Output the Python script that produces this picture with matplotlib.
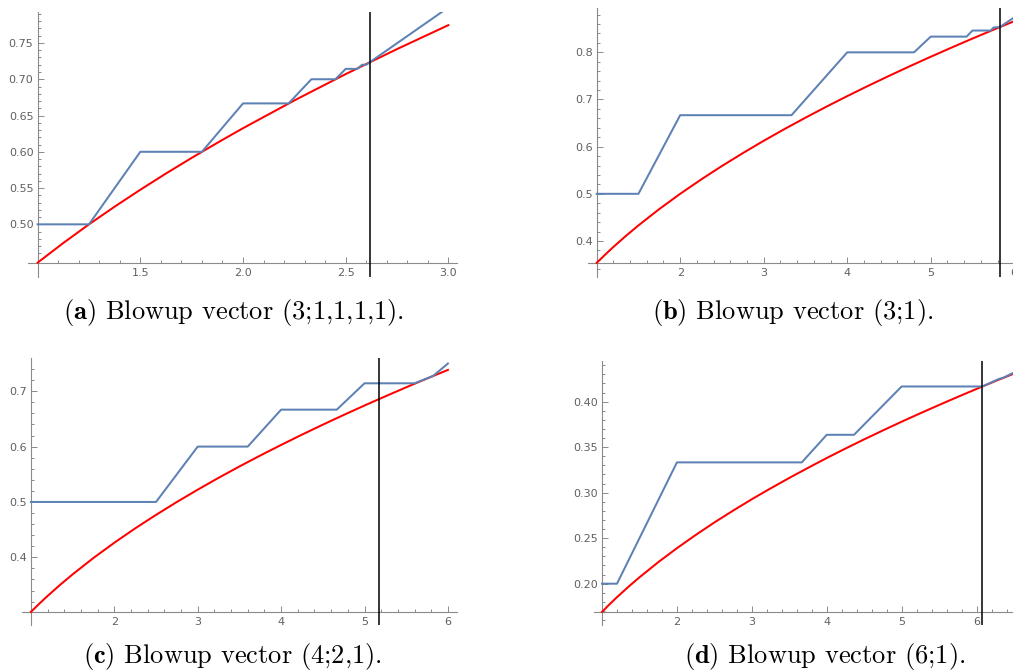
import numpy as np
import matplotlib
matplotlib.use("Agg")
import matplotlib.pyplot as plt
from matplotlib.ticker import FixedLocator

plt.rcParams["mathtext.fontset"] = "cm"

# values
a_blue_x = [1.0, 1.25, 1.5, 1.8, 2.0, 2.222, 2.333, 2.45, 2.5, 2.556, 2.58, 2.6, 2.618, 3.0]
a_blue_y = [0.5, 0.5, 0.6, 0.6, 0.6667, 0.6667, 0.70, 0.70, 0.7143, 0.7143, 0.72, 0.72, 0.7236, 0.799]
a_red_x = [1.0, 1.125, 1.25, 1.375, 1.5, 1.625, 1.75, 1.875, 2.0, 2.25, 2.5, 2.75, 3.0]
a_red_y = [0.4472, 0.4743, 0.5, 0.5244, 0.5477, 0.5701, 0.5916, 0.6124, 0.6325, 0.6708,
           0.7071, 0.7416, 0.7746]

b_blue_x = [1.0, 1.5, 2.0, 3.333, 4.0, 4.8, 5.0, 5.43, 5.5, 5.72, 5.75, 5.828, 6.1]
b_blue_y = [0.5, 0.5, 0.6667, 0.6667, 0.8, 0.8, 0.8333, 0.8333, 0.8462, 0.8462, 0.8525, 0.8536, 0.886]
b_red_x = [1.0, 1.1, 1.2, 1.35, 1.5, 1.75, 2.0, 2.25, 2.5, 2.75, 3.0, 3.25, 3.5, 3.75,
           4.0, 4.25, 4.5, 4.75, 5.0, 5.25, 5.5, 5.75, 6.0, 6.1]
b_red_y = [0.3536, 0.3708, 0.3873, 0.4108, 0.4330, 0.4677, 0.5, 0.5303, 0.5590, 0.5863, 0.6124,
           0.6374, 0.6614, 0.6847, 0.7071, 0.7289, 0.75, 0.7706, 0.7906, 0.8101, 0.8292,
           0.8478, 0.8660, 0.8732]

c_blue_x = [1.0, 2.5, 3.0, 3.6, 4.0, 4.667, 5.0, 5.6, 5.82, 6.0]
c_blue_y = [0.5, 0.5, 0.6, 0.6, 0.6667, 0.6667, 0.7143, 0.7143, 0.7273, 0.75]
c_red_x = [1.0, 1.1, 1.2, 1.35, 1.5, 1.75, 2.0, 2.25, 2.5, 2.75, 3.0, 3.25, 3.5, 3.75,
           4.0, 4.25, 4.5, 4.75, 5.0, 5.25, 5.5, 5.75, 6.0]
c_red_y = [0.3015, 0.3162, 0.3303, 0.3503, 0.3693, 0.3989, 0.4264, 0.4523, 0.4767, 0.5,
           0.5222, 0.5436, 0.5641, 0.5839, 0.6030, 0.6216, 0.6396, 0.6571, 0.6742, 0.6908,
           0.7071, 0.7230, 0.7385]

d_blue_x = [1.0, 1.2, 2.0, 3.667, 4.0, 4.364, 5.0, 6.076, 6.3, 6.35, 6.62]
d_blue_y = [0.2, 0.2, 0.3333, 0.3333, 0.3636, 0.3636, 0.4167, 0.4167, 0.425, 0.426, 0.437]
d_red_x = [1.0, 1.1, 1.2, 1.35, 1.5, 1.75, 2.0, 2.25, 2.5, 2.75, 3.0, 3.25, 3.5, 3.75,
           4.0, 4.25, 4.5, 4.75, 5.0, 5.25, 5.5, 5.75, 6.0, 6.25, 6.5, 6.62]
d_red_y = [0.1690, 0.1773, 0.1852, 0.1964, 0.2070, 0.2236, 0.2390, 0.2535, 0.2673, 0.2803,
           0.2928, 0.3047, 0.3162, 0.3273, 0.3381, 0.3485, 0.3586, 0.3684, 0.3780, 0.3873,
           0.3964, 0.4053, 0.4140, 0.4226, 0.4309, 0.4349]

vlines = [2.618, 5.828, 5.177, 6.076]
captions = ["(a)", "(b)", "(c)", "(d)"]
vectors = ["(3;1,1,1,1).", "(3;1).", "(4;2,1).", "(6;1)."]

x_major = [[1.5, 2.0, 2.5, 3.0], [2, 3, 4, 5, 6], [2, 3, 4, 5, 6], [2, 3, 4, 5, 6]]
x_labels = [["1.5", "2.0", "2.5", "3.0"], ["2", "3", "4", "5", "6"],
            ["2", "3", "4", "5", "6"], ["2", "3", "4", "5", "6"]]
y_major = [[0.5, 0.55, 0.6, 0.65, 0.7, 0.75], [0.4, 0.5, 0.6, 0.7, 0.8],
           [0.4, 0.5, 0.6, 0.7], [0.2, 0.25, 0.3, 0.35, 0.4]]
y_labels = [["0.50", "0.55", "0.60", "0.65", "0.70", "0.75"], ["0.4", "0.5", "0.6", "0.7", "0.8"],
            ["0.4", "0.5", "0.6", "0.7"], ["0.20", "0.25", "0.30", "0.35", "0.40"]]

BLUE = "#5e81b5"
RED = "#ff0000"
GRAY = "#8a8a8a"
W, H = 1013, 672

# pixel boxes (left, top, right, bottom), limits, axis origin, minor steps
panels = [
    dict(box=(28, 12, 457, 277), xlim=(0.953, 3.042), ylim=(0.4274, 0.7927), oy=0.4472, dx=0.1, dy=0.01),
    dict(box=(588, 8, 1023, 277), xlim=(0.896, 6.105), ylim=(0.3236, 0.894), oy=0.3536, dx=0.2, dy=0.02),
    dict(box=(22, 358, 457, 625), xlim=(0.893, 6.109), ylim=(0.2778, 0.760), oy=0.3015, dx=0.2, dy=0.02),
    dict(box=(594, 361, 1023, 625), xlim=(0.893, 6.62), ylim=(0.1546, 0.4447), oy=0.169, dx=0.2, dy=0.01),
]
caption_pos = [(234, 312), (793, 312), (232, 657), (825, 657)]

data = [(a_blue_x, a_blue_y, a_red_x, a_red_y), (b_blue_x, b_blue_y, b_red_x, b_red_y),
        (c_blue_x, c_blue_y, c_red_x, c_red_y), (d_blue_x, d_blue_y, d_red_x, d_red_y)]

fig = plt.figure(figsize=(W / 100, H / 100), dpi=100)

for i, p in enumerate(panels):
    l, t, r, b = p["box"]
    ax = fig.add_axes([l / W, 1 - b / H, (r - l) / W, (b - t) / H])
    bx, by, rx, ry = data[i]
    ax.plot(rx, ry, color=RED, lw=1.45, zorder=3)
    ax.plot(bx, by, color=BLUE, lw=1.45, zorder=4)
    ax.axvline(vlines[i], color="black", lw=1.1, zorder=5)
    ax.set_xlim(*p["xlim"])
    ax.set_ylim(*p["ylim"])

    for s in ["top", "right"]:
        ax.spines[s].set_visible(False)
    ax.spines["left"].set_position(("data", 1.0))
    ax.spines["bottom"].set_position(("data", p["oy"]))
    for s in ["left", "bottom"]:
        ax.spines[s].set_color(GRAY)
        ax.spines[s].set_linewidth(0.8)

    ax.set_xticks(x_major[i], x_labels[i])
    ax.set_yticks(y_major[i], y_labels[i])
    ax.xaxis.set_minor_locator(FixedLocator(np.arange(1.0 + p["dx"], p["xlim"][1], p["dx"])))
    ax.yaxis.set_minor_locator(FixedLocator(np.arange(y_major[i][0] - p["dy"] * 4, p["ylim"][1], p["dy"])))
    ax.tick_params(which="both", direction="in", color=GRAY, width=0.7,
                   labelcolor="#606060", labelsize=8)
    ax.tick_params(which="major", length=4)
    ax.tick_params(which="minor", length=2.3)
    ax.tick_params(axis="x", pad=4)
    ax.tick_params(axis="y", pad=3)
    ax.patch.set_visible(False)

    cx, cy = caption_pos[i]
    fig.text(cx / W, 1 - cy / H, r"$\mathbf{" + captions[i] + r"}$ Blowup vector " + vectors[i],
             ha="center", va="center", fontsize=19, family="cmr10")

fig.savefig("out.png", dpi=100)
